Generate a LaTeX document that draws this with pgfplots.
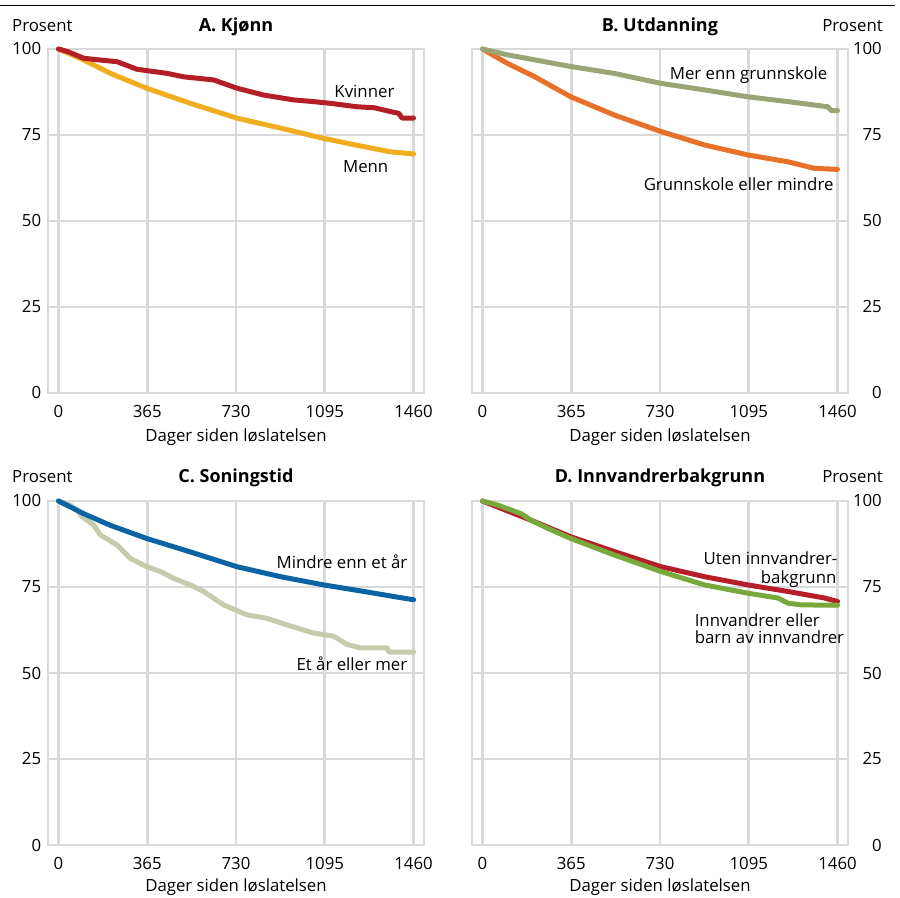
\documentclass[border=0pt]{standalone}
\usepackage{pgfplots}
\pgfplotsset{compat=1.18}
\usepackage{fontspec}
\setmainfont{Open Sans}
\definecolor{gridgray}{HTML}{D9D9D9}
\definecolor{cKvinner}{HTML}{B21F26}
\definecolor{cMenn}{HTML}{F0AD1F}
\definecolor{cMer}{HTML}{9AA576}
\definecolor{cGrunn}{HTML}{E8712A}
\definecolor{cMindre}{HTML}{0A64A4}
\definecolor{cEtaar}{HTML}{C5CBAB}
\definecolor{cUten}{HTML}{B51F29}
\definecolor{cInnv}{HTML}{78A93B}
\newcommand{\ttl}[1]{{\fontsize{18bp}{20bp}\selectfont\bfseries #1}}
\pgfplotsset{
  panel/.style={
    scale only axis, width=376bp, height=344bp,
    xmin=-43, xmax=1503, ymin=0, ymax=100,
    xtick={0,365,730,1095,1460}, xticklabels={0,365,730,1095,1460},
    ytick={0,25,50,75,100}, yticklabels={0,25,50,75,100},
    grid=major,
    major grid style={line width=2.7bp, draw=gridgray},
    axis line style={line width=2.7bp, draw=gridgray},
    major tick length=0pt,
    /pgf/number format/assume math mode=true,
    xticklabel style={anchor=base, yshift=-25bp},
    clip=false,
  },
  leftp/.style={yticklabel style={anchor=east, xshift=-1bp}},
  rightp/.style={yticklabel pos=right, yticklabel style={anchor=east, xshift=39.6bp}},
  curve/.style={line width=5bp, line join=round, line cap=round},
}
\begin{document}
\fontsize{16.8bp}{19bp}\selectfont
\begin{tikzpicture}[x=1bp,y=1bp]
\useasboundingbox (0,0) rectangle (900,898);
\draw[line width=1bp] (0,892.5) -- (895,892.5);
% ---------- A ----------
\begin{axis}[panel, leftp, at={(48bp,505bp)}, anchor=south west]
\addplot[curve, cMenn] coordinates {(0,100) (104,96.8) (214,92.9) (363,88.6) (542,84.2) (734,79.9) (913,77.0) (1091,74.0) (1256,71.6) (1365,70.1) (1460,69.5)};
\addplot[curve, cKvinner] coordinates {(0,100) (40,99.2) (104,97.3) (170,96.8) (241,96.3) (323,94.1) (447,92.9) (515,91.9) (638,91.0) (734,88.6) (844,86.6) (967,85.2) (1049,84.7) (1118,84.2) (1228,83.2) (1300,82.9) (1365,81.8) (1399,81.3) (1413,79.9) (1460,79.9)};
\node[anchor=base east, inner sep=0] at (axis cs:1382,86.0) {Kvinner};
\node[anchor=base east, inner sep=0] at (axis cs:1357,64.2) {Menn};
\end{axis}
% ---------- B ----------
\begin{axis}[panel, rightp, at={(472bp,505bp)}, anchor=south west]
\addplot[curve, cGrunn] coordinates {(0,100) (103,95.8) (213,92.0) (363,86.1) (542,80.8) (734,76.0) (913,72.1) (1091,69.2) (1256,67.2) (1365,65.3) (1460,65.0)};
\addplot[curve, cMer] coordinates {(0,100) (103,98.3) (363,94.9) (542,92.9) (734,90.0) (913,88.1) (1091,86.1) (1256,84.7) (1365,83.7) (1420,83.2) (1434,82.1) (1460,82.1)};
\node[anchor=base east, inner sep=0] at (axis cs:1419,91.0) {Mer enn grunnskole};
\node[anchor=base east, inner sep=0] at (axis cs:1444,59.0) {Grunnskole eller mindre};
\end{axis}
% ---------- C ----------
\begin{axis}[panel, leftp, at={(48bp,53bp)}, anchor=south west]
\addplot[curve, cEtaar] coordinates {(0,100) (49,98.8) (77,97.3) (97,95.4) (145,93.0) (173,90.1) (241,87.2) (296,83.3) (363,80.9) (419,79.5) (474,77.5) (542,75.6) (597,73.7) (679,69.8) (775,66.9) (857,65.9) (939,64.0) (1049,61.6) (1131,60.7) (1186,58.3) (1241,57.3) (1351,57.3) (1358,56.1) (1460,56.1)};
\addplot[curve, cMindre] coordinates {(0,100) (104,96.3) (214,92.9) (363,89.1) (542,85.2) (734,80.9) (913,78.0) (1091,75.6) (1256,73.7) (1406,71.9) (1460,71.3)};
\node[anchor=base east, inner sep=0] at (axis cs:1435,80.3) {Mindre enn et år};
\node[anchor=base east, inner sep=0] at (axis cs:1435,50.6) {Et år eller mer};
\end{axis}
% ---------- D ----------
\begin{axis}[panel, rightp, at={(472bp,53bp)}, anchor=south west]
\addplot[curve, cUten] coordinates {(0,100) (200,94.4) (363,89.6) (542,85.3) (734,80.9) (913,78.0) (1091,75.6) (1256,73.7) (1406,71.8) (1460,70.8)};
\addplot[curve, cInnv] coordinates {(0,100) (63,98.8) (159,96.3) (200,94.4) (255,92.5) (363,89.1) (542,84.3) (734,79.5) (913,75.6) (1091,73.2) (1215,71.8) (1256,70.3) (1311,69.8) (1460,69.7)};
\node[anchor=base east, inner sep=0] at (axis cs:1460,81.5) {Uten innvandrer-};
\node[anchor=base east, inner sep=0] at (axis cs:1456,76.0) {bakgrunn};
\node[anchor=base west, inner sep=0] at (axis cs:872,63.6) {Innvandrer eller};
\node[anchor=base west, inner sep=0] at (axis cs:872,58.7) {barn av innvandrer};
\end{axis}
% ---------- titles ----------
\node[anchor=base west, inner sep=0] at (12,866) {Prosent};
\node[anchor=base, inner sep=0] at (236,866) {\ttl{A. Kjønn}};
\node[anchor=base, inner sep=0] at (660,866) {\ttl{B. Utdanning}};
\node[anchor=base east, inner sep=0] at (883,866) {Prosent};
\node[anchor=base west, inner sep=0] at (12,415) {Prosent};
\node[anchor=base, inner sep=0] at (236,415) {\ttl{C. Soningstid}};
\node[anchor=base, inner sep=0] at (660,415) {\ttl{D. Innvandrerbakgrunn}};
\node[anchor=base east, inner sep=0] at (883,415) {Prosent};
\node[anchor=base, inner sep=0] at (236,456) {Dager siden løslatelsen};
\node[anchor=base, inner sep=0] at (660,456) {Dager siden løslatelsen};
\node[anchor=base, inner sep=0] at (236,6) {Dager siden løslatelsen};
\node[anchor=base, inner sep=0] at (660,6) {Dager siden løslatelsen};
\end{tikzpicture}
\end{document}
